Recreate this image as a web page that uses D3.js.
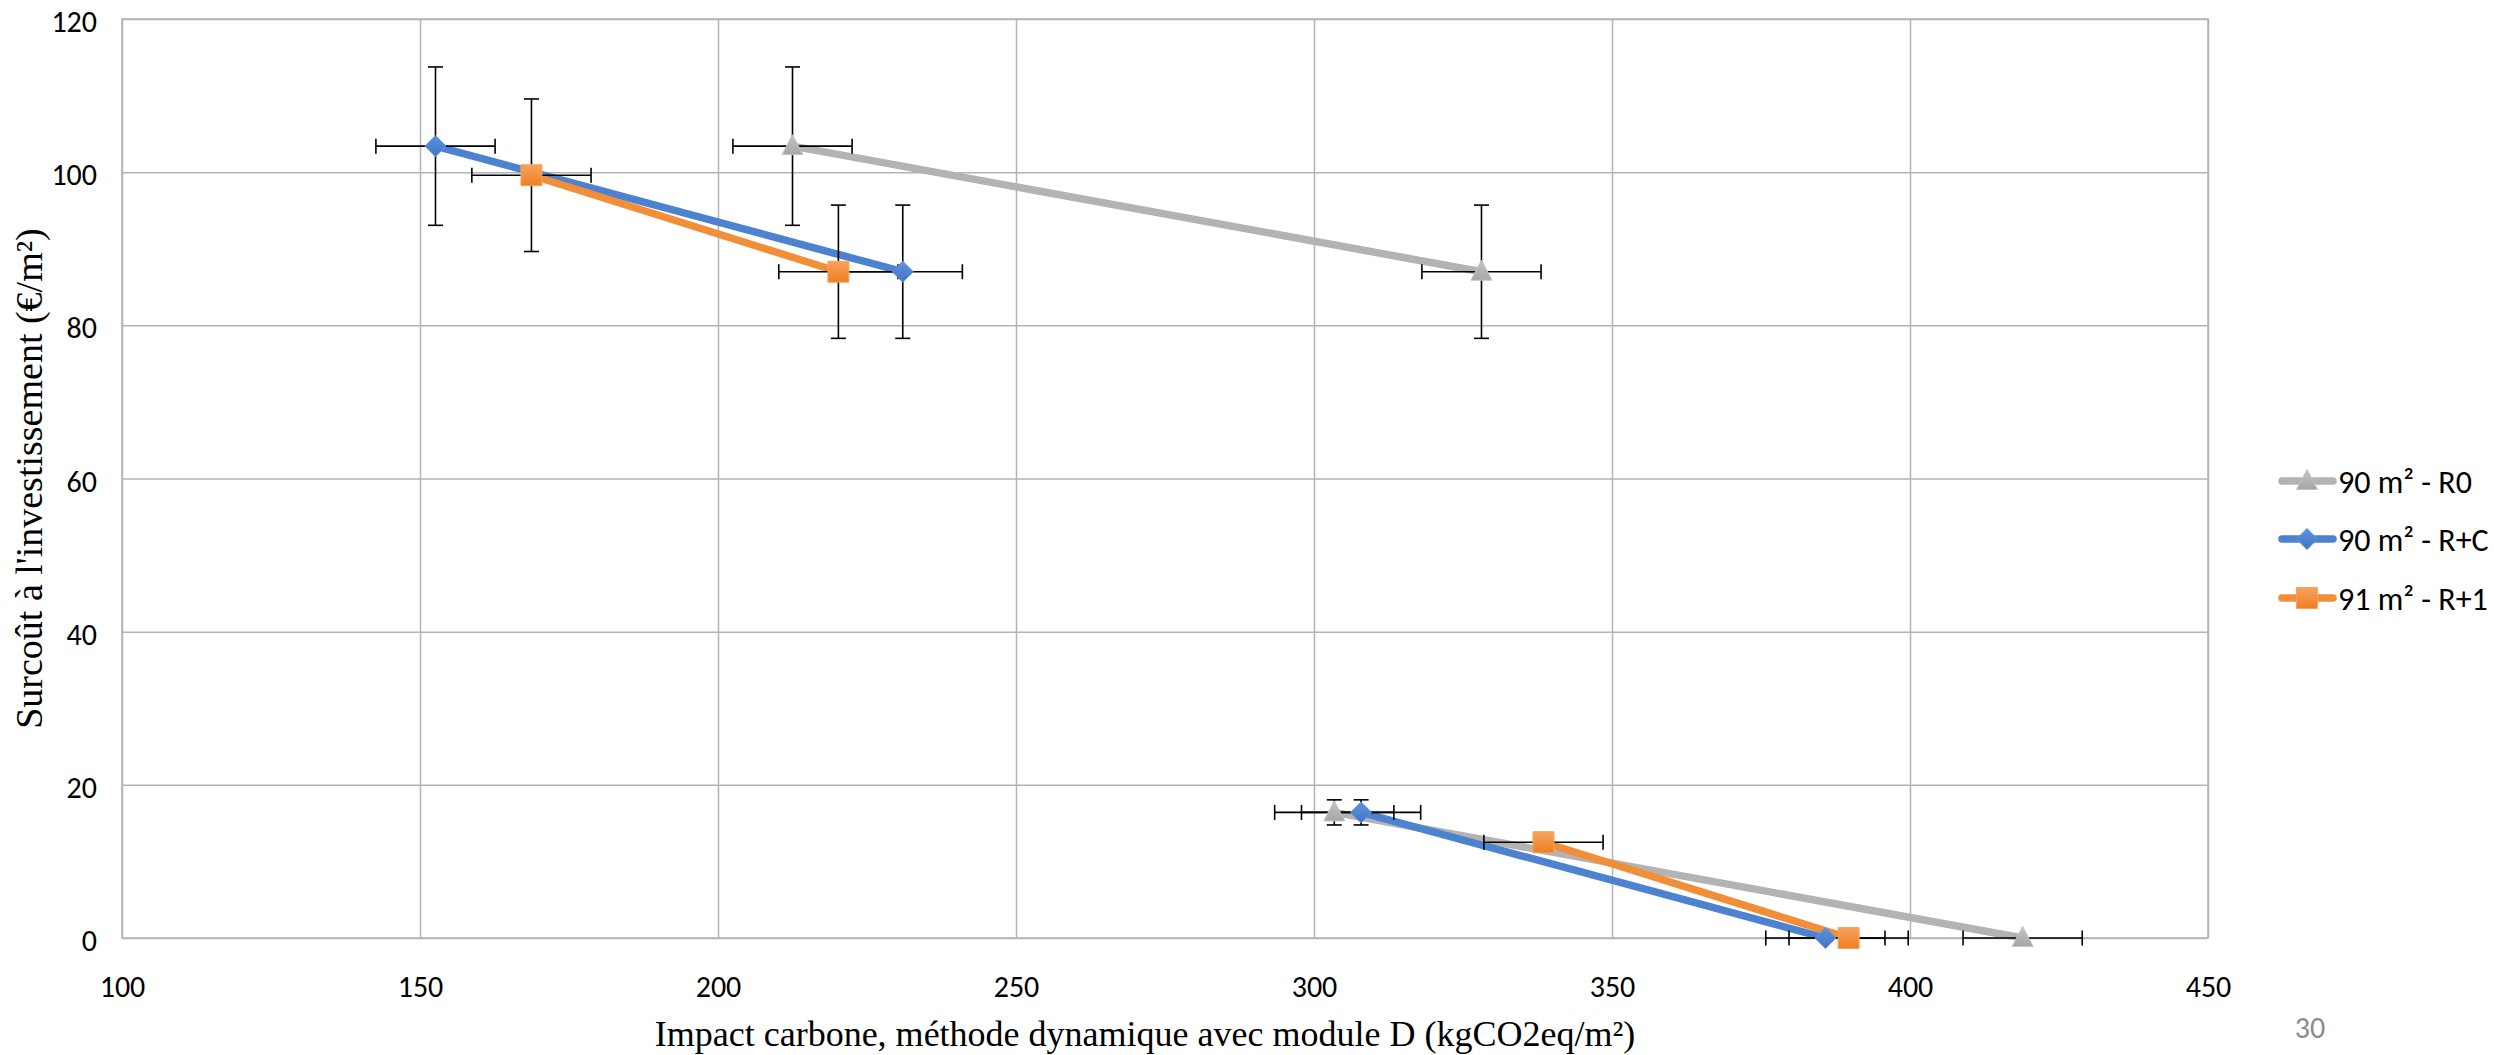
<!DOCTYPE html>
<html lang="fr">
<head>
<meta charset="UTF-8">
<title>Surcoût vs impact carbone</title>
<style>
  body { margin: 0; background: #fff; overflow: hidden; }
  svg { display: block; }
  .tick-label { font-family: Carlito, "Liberation Sans Narrow", "Liberation Sans", sans-serif; font-size: 30px; fill: #000; }
  .legend-label { font-family: Carlito, "Liberation Sans Narrow", "Liberation Sans", sans-serif; font-size: 32px; fill: #000; }
  .axis-title { font-family: "Liberation Serif", "DejaVu Serif", serif; font-size: 36px; fill: #000; }
</style>
</head>
<body>
<svg id="chart" width="2494" height="1055"></svg>
<script src="https://cdnjs.cloudflare.com/ajax/libs/d3/7.8.5/d3.min.js"></script>
<script>
// values
const seriesNames = ["90 m² - R0", "90 m² - R+C", "91 m² - R+1"];
const impactR0 = [212.5, 328.1, 303.4, 418.9];
const costR0   = [103.4, 87.0, 16.4, 0];
const impactRC = [152.6, 231.0, 307.9, 385.8];
const costRC   = [103.4, 87.0, 16.4, 0];
const impactR1 = [168.7, 220.2, 338.5, 389.7];
const costR1   = [99.6, 87.0, 12.5, 0];
// which points are joined by a line (two scenarios per series)
const segments = [[0, 1], [2, 3]];
const xErr = 10;       // fixed error on impact
const yErrPct = 0.10;  // 10 % error on cost
const xTicks = [100, 150, 200, 250, 300, 350, 400, 450];
const yTicks = [0, 20, 40, 60, 80, 100, 120];
const xTitle = "Impact carbone, méthode dynamique avec module D (kgCO2eq/m²)";
const yTitle = "Surcoût à l'investissement (€/m²)";
const slideNumber = "30";

const plot = { left: 122, right: 2208, top: 19, bottom: 938 };

const series = [
  { name: seriesNames[0], xs: impactR0, ys: costR0, color: "#B3B3B3", light: "#C4C4C4", dark: "#A6A6A6", marker: "triangle" },
  { name: seriesNames[1], xs: impactRC, ys: costRC, color: "#4D82D0", light: "#5E93DF", dark: "#3F74C4", marker: "diamond" },
  { name: seriesNames[2], xs: impactR1, ys: costR1, color: "#F28E38", light: "#F7A35E", dark: "#EE7F22", marker: "square" }
];

const svg = d3.select("#chart");

const x = d3.scaleLinear().domain([100, 450]).range([plot.left, plot.right]);
const y = d3.scaleLinear().domain([0, 120]).range([plot.bottom, plot.top]);

// gradients for the markers
const defs = svg.append("defs");
series.forEach((s, i) => {
  const g = defs.append("linearGradient").attr("id", "grad" + i)
    .attr("x1", 0).attr("y1", 0).attr("x2", 0).attr("y2", 1);
  g.append("stop").attr("offset", "0%").attr("stop-color", s.light);
  g.append("stop").attr("offset", "100%").attr("stop-color", s.dark);
});

function markerPath(type) {
  if (type === "diamond") return "M0,-10.5L10.5,0L0,10.5L-10.5,0Z";
  if (type === "square") return "M-10.5,-10.5H10.5V10.5H-10.5Z";
  return "M0,-11.5L10.5,8.5L-10.5,8.5Z";
}

// gridlines + labels via axes
const gridColor = "#B4B4B4";
const yAxis = svg.append("g")
  .attr("transform", `translate(${plot.left},0)`)
  .call(d3.axisLeft(y).tickValues(yTicks).tickSize(-(plot.right - plot.left)).tickPadding(25));
const xAxis = svg.append("g")
  .attr("transform", `translate(0,${plot.bottom})`)
  .call(d3.axisBottom(x).tickValues(xTicks).tickSize(-(plot.bottom - plot.top)).tickPadding(36));

[yAxis, xAxis].forEach(a => {
  a.attr("font-family", null).attr("font-size", null);
  a.select(".domain").remove();
  a.selectAll(".tick line").attr("stroke", gridColor).attr("stroke-width", 1.5);
  a.selectAll(".tick text").attr("class", "tick-label").attr("fill", "#000");
});
yAxis.selectAll(".tick text").attr("dy", "0.42em");
xAxis.selectAll(".tick text").attr("dy", "0.75em");

svg.append("rect")
  .attr("x", plot.left).attr("y", plot.top)
  .attr("width", plot.right - plot.left).attr("height", plot.bottom - plot.top)
  .attr("fill", "none").attr("stroke", gridColor).attr("stroke-width", 1.5);

// lines
const line = d3.line().x(d => x(d[0])).y(d => y(d[1]));
series.forEach(s => {
  segments.forEach(seg => {
    const pts = seg.map(i => [s.xs[i], s.ys[i]]);
    svg.append("path").datum(pts)
      .attr("d", line)
      .attr("fill", "none")
      .attr("stroke", s.color)
      .attr("stroke-width", 7.5)
      .attr("stroke-linecap", "round")
      .attr("stroke-linejoin", "round");
  });
});

// error bars
const cap = 7.5;
const errG = svg.append("g").attr("stroke", "#000").attr("stroke-width", 1.6).attr("fill", "none");
series.forEach(s => {
  s.xs.forEach((xv, i) => {
    const yv = s.ys[i];
    const cx = x(xv), cy = y(yv);
    const xl = x(xv - xErr), xr = x(xv + xErr);
    const yt = y(yv * (1 + yErrPct)), yb = y(yv * (1 - yErrPct));
    errG.append("line").attr("x1", xl).attr("x2", xr).attr("y1", cy).attr("y2", cy);
    errG.append("line").attr("x1", xl).attr("x2", xl).attr("y1", cy - cap).attr("y2", cy + cap);
    errG.append("line").attr("x1", xr).attr("x2", xr).attr("y1", cy - cap).attr("y2", cy + cap);
    if (yv !== 0) {
      errG.append("line").attr("x1", cx).attr("x2", cx).attr("y1", yt).attr("y2", yb);
      errG.append("line").attr("x1", cx - cap).attr("x2", cx + cap).attr("y1", yt).attr("y2", yt);
      errG.append("line").attr("x1", cx - cap).attr("x2", cx + cap).attr("y1", yb).attr("y2", yb);
    }
  });
});

// markers
series.forEach((s, si) => {
  svg.append("g").selectAll("path")
    .data(s.xs.map((xv, i) => [xv, s.ys[i]]))
    .join("path")
    .attr("transform", d => `translate(${x(d[0])},${y(d[1])})`)
    .attr("d", markerPath(s.marker))
    .attr("fill", `url(#grad${si})`)
    .attr("stroke", s.light)
    .attr("stroke-width", 1);
});

// axis titles
svg.append("text").attr("class", "axis-title")
  .attr("x", 1145).attr("y", 1046)
  .attr("text-anchor", "middle")
  .text(xTitle);
svg.append("text").attr("class", "axis-title")
  .attr("transform", `translate(42,${(plot.top + plot.bottom) / 2}) rotate(-90)`)
  .attr("text-anchor", "middle")
  .style("font-size", "38px")
  .text(yTitle);

// legend
const legend = svg.append("g").attr("transform", "translate(2280,0)");
const legendRows = [481, 539, 598];
series.forEach((s, i) => {
  const g = legend.append("g").attr("transform", `translate(0,${legendRows[i]})`);
  g.append("line").attr("x1", 2).attr("x2", 53).attr("y1", 0).attr("y2", 0)
    .attr("stroke", s.color).attr("stroke-width", 7.5).attr("stroke-linecap", "round");
  g.append("path").attr("transform", "translate(27,0)")
    .attr("d", markerPath(s.marker))
    .attr("fill", `url(#grad${i})`).attr("stroke", s.light).attr("stroke-width", 1);
  g.append("text").attr("class", "legend-label")
    .attr("x", 58).attr("y", 0).attr("dy", "0.36em")
    .text(s.name);
});

// slide number
svg.append("text").attr("class", "tick-label")
  .attr("x", 2310).attr("y", 1027).attr("dy", "0.36em")
  .attr("text-anchor", "middle")
  .style("fill", "#8C8C8C")
  .text(slideNumber);
</script>
</body>
</html>
